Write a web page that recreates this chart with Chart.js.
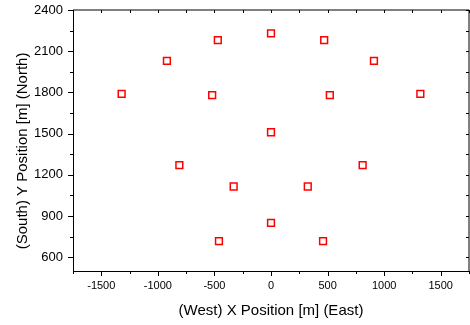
<!DOCTYPE html>
<html>
<head>
<meta charset="utf-8">
<script src="https://cdn.jsdelivr.net/npm/chart.js@4/dist/chart.umd.min.js"></script>
<style>
  html, body { margin: 0; padding: 0; background: #fff; }
  canvas { display: block; }
</style>
</head>
<body>
<canvas id="chart" width="470" height="325"></canvas>
<script>
  // Station positions (metres)
  const X_POS = [-1320, -920, -470, 0, 470, 910, -520, 520, 1320, 0, -810, 810, -330, 325, 0, -460, 460];
  const Y_POS = [1790, 2030, 2180, 2230, 2180, 2030, 1780, 1780, 1790, 1510, 1270, 1270, 1115, 1115, 850, 717, 717];

  const X_TICKS = [-1500, -1000, -500, 0, 500, 1000, 1500];
  const Y_TICKS = [600, 900, 1200, 1500, 1800, 2100, 2400];

  const X_MIN = -1750, X_MAX = 1750;
  const Y_MIN = 500, Y_MAX = 2400;

  const points = X_POS.map((x, i) => ({ x: x, y: Y_POS[i] }));

  // frame + major/minor tick marks (outward on left/bottom, inward on top/right)
  const axisFrame = {
    id: 'axisFrame',
    afterDraw(chart) {
      const ctx = chart.ctx;
      const a = chart.chartArea;
      const xs = chart.scales.x, ys = chart.scales.y;
      ctx.save();
      ctx.lineWidth = 1;
      ctx.strokeStyle = '#000';

      ctx.beginPath();
      ctx.moveTo(a.left, a.top);
      ctx.lineTo(a.right, a.top);
      ctx.lineTo(a.right, a.bottom);
      ctx.stroke();

      ctx.beginPath();
      ctx.moveTo(a.left + 0.5, a.top);
      ctx.lineTo(a.left + 0.5, a.bottom + 0.5);
      ctx.lineTo(a.right, a.bottom + 0.5);
      ctx.stroke();

      ctx.beginPath();
      for (let v = X_MIN; v <= X_MAX; v += 250) {
        const px = Math.round(xs.getPixelForValue(v)) + 0.5;
        const len = v % 500 === 0 ? 5 : 3;
        ctx.moveTo(px, a.bottom);
        ctx.lineTo(px, a.bottom + len);
        ctx.moveTo(px, a.top);
        ctx.lineTo(px, a.top + 3);
      }
      for (let v = 600; v <= Y_MAX; v += 150) {
        const py = Math.round(ys.getPixelForValue(v)) + 0.5;
        const len = v % 300 === 0 ? 5 : 3;
        ctx.moveTo(a.left, py);
        ctx.lineTo(a.left - len, py);
        ctx.moveTo(a.right, py);
        ctx.lineTo(a.right - 3, py);
      }
      ctx.stroke();
      ctx.restore();
    }
  };

  const FONT = 'Liberation Sans, Arial, sans-serif';

  new Chart(document.getElementById('chart'), {
    type: 'scatter',
    data: {
      datasets: [{
        data: points,
        pointStyle: 'rect',
        pointRadius: 4.8,
        pointHoverRadius: 4.8,
        borderWidth: 1.5,
        borderColor: '#ff0000',
        backgroundColor: 'rgba(255,255,255,0)'
      }]
    },
    options: {
      responsive: false,
      animation: false,
      devicePixelRatio: 1,
      layout: { autoPadding: false, padding: { top: 10, right: 1, left: 0, bottom: 0 } },
      plugins: {
        legend: { display: false },
        tooltip: { enabled: false }
      },
      scales: {
        x: {
          type: 'linear',
          min: X_MIN,
          max: X_MAX,
          afterBuildTicks: (scale) => { scale.ticks = X_TICKS.map(v => ({ value: v })); },
          afterFit: (scale) => {
            scale.height = 54;
            scale.paddingLeft = 0;
            scale.paddingRight = 0;
          },
          grid: { display: false, drawTicks: false },
          border: { display: false },
          ticks: {
            padding: 8,
            color: '#000',
            maxRotation: 0,
            autoSkip: false,
            callback: (v) => String(v),
            font: { family: FONT, size: 11 }
          },
          title: {
            display: true,
            text: '(West) X Position [m] (East)',
            color: '#000',
            padding: { top: 0, bottom: 5 },
            font: { family: FONT, size: 15 }
          }
        },
        y: {
          type: 'linear',
          min: Y_MIN,
          max: Y_MAX,
          afterBuildTicks: (scale) => { scale.ticks = Y_TICKS.map(v => ({ value: v })); },
          afterFit: (scale) => {
            scale.width = 73;
            scale.paddingTop = 0;
            scale.paddingBottom = 0;
          },
          grid: { display: false, drawTicks: false },
          border: { display: false },
          ticks: {
            padding: 10,
            color: '#000',
            autoSkip: false,
            callback: (v) => String(v),
            font: { family: FONT, size: 13 }
          },
          title: {
            display: true,
            text: '(South) Y Position [m] (North)     ',
            color: '#000',
            padding: { top: 14, bottom: 0 },
            font: { family: FONT, size: 15 }
          }
        }
      }
    },
    plugins: [axisFrame]
  });
</script>
</body>
</html>
